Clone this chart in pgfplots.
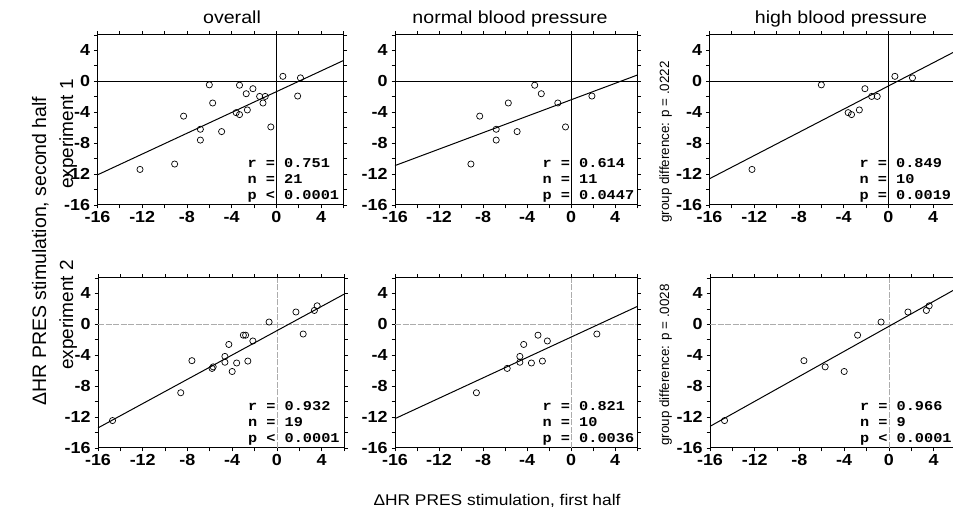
\documentclass[border=0pt]{standalone}
\usepackage{pgfplots}
\pgfplotsset{compat=1.18}
\usepackage{fontspec}
\setmainfont{Liberation Sans}
\newfontfamily\tickfamily{Liberation Sans Bold}
\newfontfamily\statfamily{Liberation Mono Bold}
\newcommand{\statfont}{\statfamily\fontsize{13.5}{15}\selectfont}
\pgfplotsset{
  panel/.style={scale only axis, width=246pt, height=170pt, anchor=south west,
    xmin=-16, xmax=6, ymin=-16, ymax=6,
    xtick={-16,-12,-8,-4,0,4}, ytick={-16,-12,-8,-4,0,4},
    minor xtick={-14,-10,-6,-2,2,6}, minor ytick={-14,-10,-6,-2,2,6},
    tick align=outside, major tick length=3.5pt, minor tick length=3.5pt,
    tick style={black, line width=0.8pt},
    axis line style={line width=1pt},
    tick label style={font=\tickfamily\fontsize{16}{18}\selectfont, xscale=1.12},
    xticklabel style={yshift=1pt},
    /pgf/number format/assume math mode=true,
    clip=false},
  pts/.style={only marks, mark=o, mark size=3.1pt, mark options={line width=0.7pt, black, fill=white}},
  reg/.style={no marks, black, line width=1pt},
  zero1/.style={no marks, black, line width=0.6pt},
  zero2/.style={no marks, gray!65, line width=0.6pt, dash pattern=on 6pt off 1.5pt},
}
\newcommand{\stats}[3]{%
  \node[font=\statfont, xscale=1.13, anchor=base west, inner sep=0pt] at (axis cs:-2.6,-11.1) {#1};
  \node[font=\statfont, xscale=1.13, anchor=base west, inner sep=0pt] at (axis cs:-2.6,-13.2) {#2};
  \node[font=\statfont, xscale=1.13, anchor=base west, inner sep=0pt] at (axis cs:-2.6,-15.25) {#3};
}
\begin{document}
\begin{tikzpicture}
\useasboundingbox (0,0) rectangle (953pt,526pt);
% titles
\node[font=\fontsize{17.5}{20}\selectfont, xscale=1.12, anchor=base] at (232pt,502.5pt) {overall};
\node[font=\fontsize{17.5}{20}\selectfont, xscale=1.12, anchor=base] at (510pt,502.5pt) {normal blood pressure};
\node[font=\fontsize{17.5}{20}\selectfont, xscale=1.12, anchor=base] at (841pt,502.5pt) {high blood pressure};
% axis labels
\node[font=\fontsize{15.5}{18}\selectfont, xscale=1.12, anchor=base] at (497pt,20pt) {ΔHR PRES stimulation, first half};
\node[font=\fontsize{19.5}{20}\selectfont, anchor=base, rotate=90] at (46pt,275pt) {ΔHR PRES stimulation, second half};
\node[font=\fontsize{19}{20}\selectfont, anchor=base, rotate=90] at (73pt,392pt) {experiment 1};
\node[font=\fontsize{19}{20}\selectfont, anchor=base, rotate=90] at (73pt,211pt) {experiment 2};
\node[font=\fontsize{13.4}{14}\selectfont, anchor=base, rotate=90] at (669pt,384pt) {group difference: p = .0222};
\node[font=\fontsize{13.4}{14}\selectfont, anchor=base, rotate=90] at (669pt,161pt) {group difference: p = .0028};

% ---------- experiment 1, overall
\begin{axis}[panel, at={(97.5pt,321pt)}]
\addplot[zero1] coordinates {(-16,0) (6,0)};
\addplot[zero1] coordinates {(0,-16) (0,6)};
\addplot[reg] coordinates {(-16,-12.1) (6,2.7)};
\addplot[pts] coordinates {(-12.2,-11.4) (-9.1,-10.7) (-8.3,-4.5) (-6.8,-6.2) (-6.8,-7.6) (-6.0,-0.45) (-5.7,-2.8) (-4.9,-6.5) (-3.6,-4.05) (-3.3,-4.3) (-3.3,-0.5) (-2.7,-1.6) (-2.6,-3.7) (-2.1,-0.95) (-1.5,-1.95) (-1.0,-1.95) (-1.2,-2.8) (-0.5,-5.9) (0.58,0.65) (1.9,-1.9) (2.15,0.45)};
\stats{r = 0.751}{n = 21}{p < 0.0001}
\end{axis}
% ---------- experiment 1, normal
\begin{axis}[panel, width=242pt, at={(395pt,321pt)}]
\addplot[zero1] coordinates {(-16,0) (6,0)};
\addplot[zero1] coordinates {(0,-16) (0,6)};
\addplot[reg] coordinates {(-16,-10.9) (6,0.8)};
\addplot[pts] coordinates {(-9.1,-10.7) (-8.3,-4.5) (-6.8,-6.2) (-6.8,-7.6) (-5.7,-2.8) (-4.9,-6.5) (-3.3,-0.5) (-2.7,-1.6) (-1.2,-2.8) (-0.5,-5.9) (1.9,-1.9)};
\stats{r = 0.614}{n = 11}{p = 0.0447}
\end{axis}
% ---------- experiment 1, high
\begin{axis}[panel, at={(709.5pt,321pt)}]
\addplot[zero1] coordinates {(-16,0) (6,0)};
\addplot[zero1] coordinates {(0,-16) (0,6)};
\addplot[reg] coordinates {(-16,-12.6) (6,3.9)};
\addplot[pts] coordinates {(-12.2,-11.4) (-6.0,-0.45) (-3.6,-4.05) (-3.3,-4.3) (-2.6,-3.7) (-2.1,-0.95) (-1.5,-1.95) (-1.0,-1.95) (0.58,0.65) (2.15,0.45)};
\stats{r = 0.849}{n = 10}{p = 0.0019}
\end{axis}

% ---------- experiment 2, overall
\begin{axis}[panel, at={(98pt,78pt)}]
\addplot[zero2] coordinates {(-16,0) (6,0)};
\addplot[zero2] coordinates {(0,-16) (0,6)};
\addplot[reg] coordinates {(-16,-13.4) (6,3.9)};
\addplot[pts] coordinates {(-14.7,-12.45) (-8.6,-8.85) (-7.6,-4.7) (-5.8,-5.7) (-5.7,-5.5) (-4.65,-4.15) (-4.65,-4.9) (-4.3,-2.6) (-4.0,-6.1) (-3.6,-5.0) (-3.0,-1.4) (-2.8,-1.4) (-2.6,-4.75) (-2.15,-2.15) (-0.7,0.3) (1.7,1.6) (2.35,-1.25) (3.35,1.8) (3.6,2.4)};
\stats{r = 0.932}{n = 19}{p < 0.0001}
\end{axis}
% ---------- experiment 2, normal
\begin{axis}[panel, width=242pt, at={(395pt,78pt)}]
\addplot[zero2] coordinates {(-16,0) (6,0)};
\addplot[zero2] coordinates {(0,-16) (0,6)};
\addplot[reg] coordinates {(-16,-12.2) (6,2.3)};
\addplot[pts] coordinates {(-8.6,-8.85) (-5.8,-5.7) (-4.65,-4.15) (-4.65,-4.9) (-4.3,-2.6) (-3.6,-5.0) (-3.0,-1.4) (-2.6,-4.75) (-2.15,-2.15) (2.35,-1.25)};
\stats{r = 0.821}{n = 10}{p = 0.0036}
\end{axis}
% ---------- experiment 2, high
\begin{axis}[panel, at={(710pt,78pt)}]
\addplot[zero2] coordinates {(-16,0) (6,0)};
\addplot[zero2] coordinates {(0,-16) (0,6)};
\addplot[reg] coordinates {(-16,-13.2) (6,4.6)};
\addplot[pts] coordinates {(-14.7,-12.45) (-7.6,-4.7) (-5.7,-5.5) (-4.0,-6.1) (-2.8,-1.4) (-0.7,0.3) (1.7,1.6) (3.35,1.8) (3.6,2.4)};
\stats{r = 0.966}{n = 9}{p < 0.0001}
\end{axis}
\end{tikzpicture}
\end{document}
